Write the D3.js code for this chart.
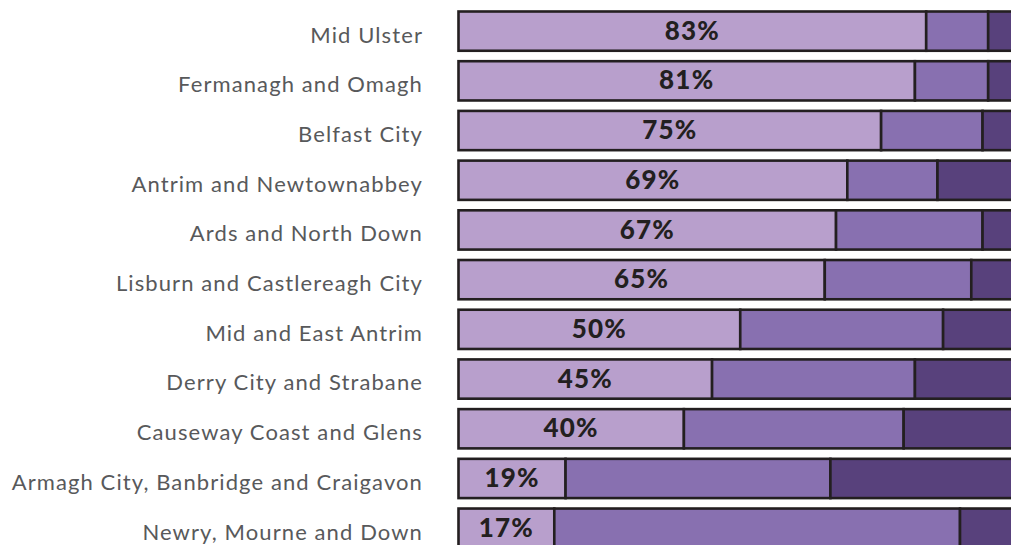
<!DOCTYPE html>
<html lang="en">
<head>
    <meta charset="UTF-8">
    <script src="https://cdn.jsdelivr.net/npm/d3@7/dist/d3.min.js"></script>
    <style>
        body { margin: 0; background: #fff; }
        svg { display: block; }
    </style>
</head>
<body>
    <svg id="chart"></svg>
<script>
    const councils = [
        "Mid Ulster",
        "Fermanagh and Omagh",
        "Belfast City",
        "Antrim and Newtownabbey",
        "Ards and North Down",
        "Lisburn and Castlereagh City",
        "Mid and East Antrim",
        "Derry City and Strabane",
        "Causeway Coast and Glens",
        "Armagh City, Banbridge and Craigavon",
        "Newry, Mourne and Down"
    ];
    const first = [83, 81, 75, 69, 67, 65, 50, 45, 40, 19, 17];
    const second = [11, 13, 18, 16, 26, 26, 36, 36, 39, 47, 72];
    const third = [6, 6, 7, 15, 7, 9, 14, 19, 21, 34, 11];
    const colors = ["#b89fcc", "#8870b0", "#58417c"];

    const width = 1011, height = 545;
    const svg = d3.select("#chart").attr("width", width).attr("height", height);

    const rows = councils.map((c, i) => ({ council: c, a: first[i], b: second[i], c: third[i] }));
    const stack = d3.stack().keys(["a", "b", "c"])(rows);

    const x = d3.scaleLinear().domain([0, 100]).range([458.5, 1022]);
    const y = d3.scaleBand().domain(councils).range([11.5, 547.8]).paddingInner(0.21).paddingOuter(0);

    svg.append("g")
        .selectAll("g")
        .data(stack)
        .join("g")
        .attr("fill", (d, i) => colors[i])
        .selectAll("rect")
        .data(d => d)
        .join("rect")
        .attr("x", d => x(d[0]))
        .attr("y", d => y(d.data.council))
        .attr("width", d => x(d[1]) - x(d[0]))
        .attr("height", y.bandwidth())
        .attr("stroke", "#231f20")
        .attr("stroke-width", 2.6);

    // council names
    svg.append("g")
        .selectAll("text")
        .data(councils)
        .join("text")
        .attr("x", 423)
        .attr("y", d => y(d) + y.bandwidth() / 2)
        .attr("dy", "0.52em")
        .attr("text-anchor", "end")
        .attr("fill", "#58595b")
        .style("font", "22px Lato")
        .style("letter-spacing", "1.1px")
        .text(d => d);

    // percentage of first segment
    svg.append("g")
        .selectAll("text")
        .data(rows)
        .join("text")
        .attr("x", d => Math.max(x(d.a / 2), x(0) + 40))
        .attr("y", d => y(d.council) + y.bandwidth() / 2)
        .attr("dy", "0.33em")
        .attr("text-anchor", "middle")
        .attr("fill", "#231f20")
        .style("font", "900 26px Lato")
        .style("letter-spacing", "1.2px")
        .text(d => d.a + "%");
</script>
</body>
</html>
